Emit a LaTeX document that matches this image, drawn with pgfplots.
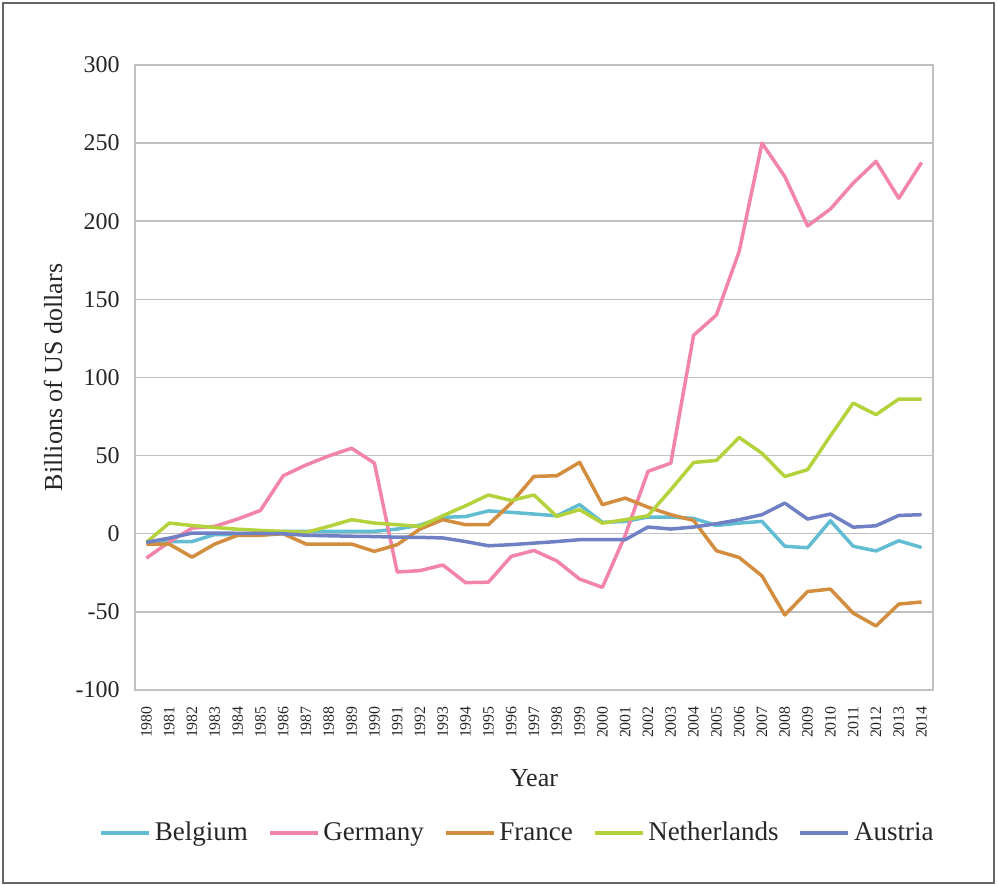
\documentclass[border=0pt]{standalone}
\usepackage{pgfplots}
\pgfplotsset{compat=1.18}
\usepackage{fontspec}
\setmainfont{Liberation Serif}
\definecolor{cBel}{HTML}{62BCD2}
\definecolor{cGer}{HTML}{F283AA}
\definecolor{cFra}{HTML}{D38D3F}
\definecolor{cNet}{HTML}{B3D23C}
\definecolor{cAut}{HTML}{6F80C4}
\definecolor{gridgray}{HTML}{C0C0C0}
\definecolor{txt}{HTML}{262626}
\begin{document}
\begin{tikzpicture}
\useasboundingbox (-67.5pt,-98pt) rectangle (431pt,345pt);
\draw[black!60, line width=0.75pt] (-66pt,-96.5pt) rectangle (429.5pt,343.5pt);
\begin{axis}[
  at={(0pt,0pt)}, anchor=south west,
  scale only axis, width=399pt, height=312.5pt,
  xmin=1979.5, xmax=2014.5, ymin=-100, ymax=300,
  xtick={1980,...,2014}, ytick={-100,-50,...,300},
  ymajorgrids, grid style={color=gridgray, line width=0.75pt},
  axis line style={gridgray, line width=0.75pt},
  major tick length=0pt,
  /pgf/number format/assume math mode=true,
  /pgf/number format/1000 sep={},
  tick label style={text=txt},
  xticklabel style={rotate=90, anchor=east, inner xsep=0pt, font=\fontsize{7.9}{9}\selectfont},
  xticklabel shift=8pt,
  yticklabel style={inner xsep=0pt, font=\fontsize{12}{14}\selectfont},
  yticklabel shift=7.5pt,
  xlabel={Year},
  xlabel style={at={([yshift=-44pt]rel axis cs:0.5,0)}, anchor=center, font=\fontsize{13}{15}\selectfont, text=txt},
  ylabel={Billions of US dollars},
  ylabel style={at={([xshift=-41pt]rel axis cs:0,0.5)}, anchor=center, font=\fontsize{13}{15}\selectfont, text=txt},
  legend columns=-1,
  legend style={at={([yshift=-71.5pt]rel axis cs:0.4806,0)}, anchor=center, draw=none, fill=none,
    font=\fontsize{13.5}{16}\selectfont, text=txt,
    /tikz/every even column/.append style={column sep=8pt}},
  legend image code/.code={\draw[#1] (0pt,0pt) -- (24pt,0pt);},
  every axis plot/.append style={line width=1.75pt, line join=round, no markers},
]
\addplot[cBel] coordinates {
(1980,-5) (1981,-5) (1982,-5) (1983,-0.5) (1984,-0.5) (1985,0) (1986,1.5) (1987,1.5) (1988,1.5) (1989,1.5)
(1990,1.5) (1991,3) (1992,5.5) (1993,10.5) (1994,11) (1995,14.6) (1996,13.7) (1997,12.6) (1998,11.5) (1999,18.6)
(2000,7.3) (2001,7.9) (2002,10.7) (2003,10.7) (2004,9.8) (2005,5.3) (2006,6.8) (2007,7.9) (2008,-8) (2009,-9)
(2010,8.3) (2011,-8) (2012,-11) (2013,-4.5) (2014,-8.8)};
\addlegendentry{Belgium}
\addplot[cGer] coordinates {
(1980,-15.6) (1981,-5.3) (1982,3.6) (1983,4.7) (1984,9.4) (1985,14.9) (1986,37.1) (1987,44) (1988,49.8) (1989,54.7)
(1990,45.2) (1991,-24.5) (1992,-23.6) (1993,-20) (1994,-31.3) (1995,-31) (1996,-14.5) (1997,-10.7) (1998,-17.4) (1999,-29)
(2000,-34.3) (2001,-1) (2002,39.9) (2003,45.2) (2004,127) (2005,140) (2006,180.7) (2007,250) (2008,228.6) (2009,197)
(2010,207.8) (2011,224.4) (2012,238.3) (2013,214.7) (2014,237.6)};
\addlegendentry{Germany}
\addplot[cFra] coordinates {
(1980,-6.6) (1981,-6.6) (1982,-15) (1983,-6.6) (1984,-1) (1985,-1) (1986,0) (1987,-6.6) (1988,-6.6) (1989,-6.6)
(1990,-11.3) (1991,-7) (1992,3) (1993,9) (1994,5.8) (1995,5.8) (1996,19.6) (1997,36.7) (1998,37.1) (1999,45.7)
(2000,18.6) (2001,22.8) (2002,17) (2003,12.2) (2004,8.5) (2005,-10.9) (2006,-15.2) (2007,-27) (2008,-52) (2009,-37)
(2010,-35.4) (2011,-50.8) (2012,-59) (2013,-45) (2014,-43.7)};
\addlegendentry{France}
\addplot[cNet] coordinates {
(1980,-5.5) (1981,6.8) (1982,5.3) (1983,4) (1984,2.9) (1985,2.1) (1986,1.5) (1987,0.9) (1988,4.7) (1989,9)
(1990,6.8) (1991,5.8) (1992,4.7) (1993,11.5) (1994,17.9) (1995,24.8) (1996,21.3) (1997,24.8) (1998,11.1) (1999,15.4)
(2000,6.8) (2001,9) (2002,11.5) (2003,28.2) (2004,45.6) (2005,46.9) (2006,61.6) (2007,51.5) (2008,36.6) (2009,41)
(2010,62.7) (2011,83.6) (2012,76.2) (2013,86.2) (2014,86.2)};
\addlegendentry{Netherlands}
\addplot[cAut] coordinates {
(1980,-5.5) (1981,-2.8) (1982,0.4) (1983,0.4) (1984,0.3) (1985,0.2) (1986,0) (1987,-1) (1988,-1.3) (1989,-1.6)
(1990,-1.8) (1991,-2.2) (1992,-2.3) (1993,-2.7) (1994,-5) (1995,-7.7) (1996,-7) (1997,-6) (1998,-5) (1999,-3.8)
(2000,-3.8) (2001,-3.8) (2002,4.3) (2003,3) (2004,4.3) (2005,6.4) (2006,9) (2007,12.2) (2008,19.6) (2009,9.4)
(2010,12.6) (2011,4.2) (2012,5.1) (2013,11.7) (2014,12.2)};
\addlegendentry{Austria}
\end{axis}
\end{tikzpicture}
\end{document}
